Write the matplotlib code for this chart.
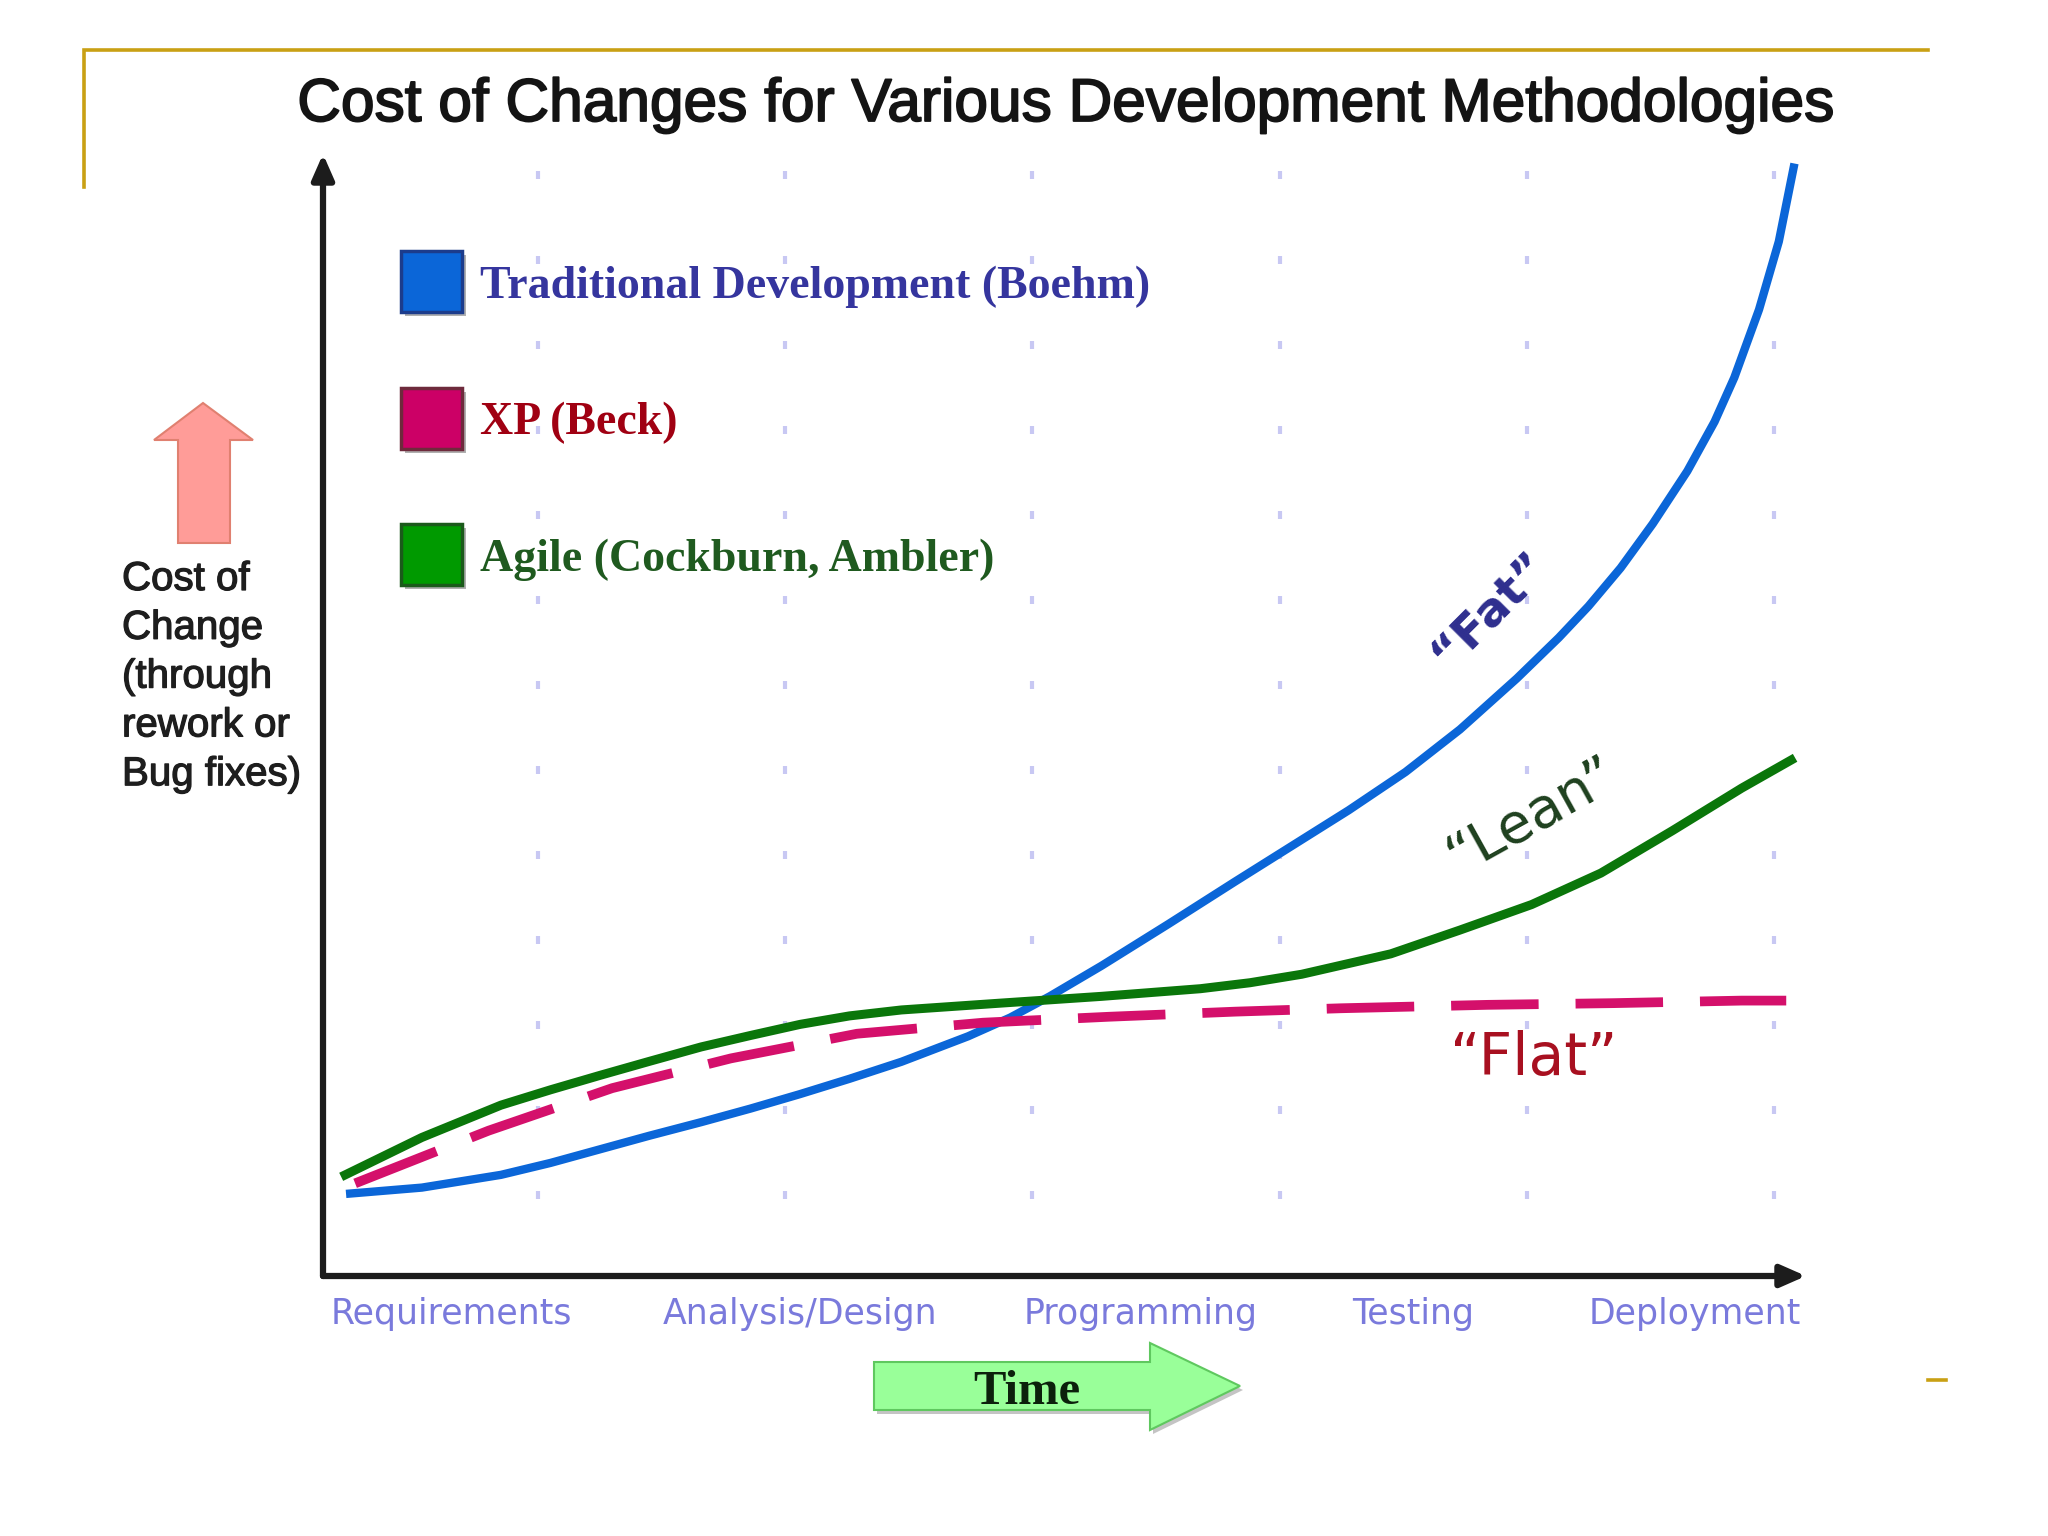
import numpy as np
import matplotlib
matplotlib.use('Agg')
from matplotlib import pyplot as plt
from matplotlib.patches import Polygon, Rectangle
from matplotlib import patheffects as pe

title = 'Cost of Changes for Various Development Methodologies'
y_label = 'Cost of\nChange\n(through\nrework or\nBug fixes)'
time_label = 'Time'

phases = ['Requirements', 'Analysis/Design', 'Programming', 'Testing', 'Deployment']
phase_pos = [0.65, 2.06, 3.44, 4.54, 5.68]

series_names = ['Traditional Development (Boehm)', 'XP (Beck)', 'Agile (Cockburn, Ambler)']
curve_labels = ['\u201cFat\u201d', '\u201cFlat\u201d', '\u201cLean\u201d']

# values (x in grid columns, y in grid rows)
trad_x = [0.24, 0.53, 0.85, 1.05, 1.25, 1.45, 1.66, 1.86, 2.06, 2.26, 2.47, 2.74,
          2.91, 3.07, 3.28, 3.55, 3.82, 4.05, 4.28, 4.51, 4.73, 4.96, 5.13, 5.25,
          5.38, 5.51, 5.65, 5.76, 5.84, 5.94, 6.02, 6.08]
trad_y = [1.02, 1.09, 1.24, 1.38, 1.54, 1.70, 1.86, 2.02, 2.19, 2.37, 2.57, 2.87,
          3.09, 3.34, 3.70, 4.19, 4.69, 5.11, 5.53, 5.98, 6.48, 7.08, 7.56, 7.93,
          8.38, 8.90, 9.52, 10.10, 10.62, 11.42, 12.22, 13.09]

xp_x = [0.26, 0.80, 1.30, 1.78, 2.29, 2.80, 3.31, 3.82, 4.25, 4.84, 5.35, 5.87, 6.05]
xp_y = [1.14, 1.76, 2.26, 2.61, 2.90, 3.03, 3.10, 3.16, 3.20, 3.24, 3.26, 3.29, 3.29]

agile_x = [0.22, 0.53, 0.85, 1.05, 1.25, 1.45, 1.66, 1.86, 2.06, 2.26, 2.47, 2.87,
           3.28, 3.68, 3.88, 4.09, 4.45, 4.73, 5.02, 5.30, 5.59, 5.87, 6.07]
agile_y = [1.24, 1.68, 2.06, 2.24, 2.41, 2.575, 2.745, 2.88, 3.01, 3.11, 3.18, 3.26,
           3.34, 3.43, 3.50, 3.60, 3.84, 4.12, 4.42, 4.79, 5.29, 5.79, 6.12]

grid_cols = [1, 2, 3, 4, 5, 6]
grid_rows = list(range(1, 14))

fig = plt.figure(figsize=(20.48, 15.36), dpi=100)
ax = fig.add_axes([323 / 2048, (1536 - 1276) / 1536, (1806 - 323) / 2048, (1276 - 154) / 1536])
ax.set_xlim(0.13, 6.13)
ax.set_ylim(0.05, 13.25)
for s in ax.spines.values():
    s.set_visible(False)

# dotted background grid
gx, gy = np.meshgrid(grid_cols, grid_rows)
ax.plot(gx.ravel(), gy.ravel(), ls='none', marker='|', ms=6, mew=3,
        color='#c8c8f3', zorder=1)

ax.plot(trad_x, trad_y, color='#0b66d8', lw=6, solid_joinstyle='round', zorder=3)
ax.plot(xp_x, xp_y, color='#d4106b', lw=7, dashes=(9, 3.8), zorder=4)
ax.plot(agile_x, agile_y, color='#0a760a', lw=6.5, solid_joinstyle='round', zorder=5)

ax.text(4.85, 7.88, curve_labels[0], rotation=45, rotation_mode='anchor',
        ha='center', va='center', fontsize=34, fontweight='bold',
        color='#2e2e8e', family='DejaVu Sans')
ax.text(5.03, 2.41, curve_labels[1], ha='center', va='baseline', fontsize=42,
        color='#a81020', family='DejaVu Sans')
ax.text(5.02, 5.46, curve_labels[2], rotation=29, rotation_mode='anchor',
        ha='center', va='center', fontsize=40, color='#1e401e', family='DejaVu Sans')

# axes with arrow heads
arrow = dict(arrowstyle='-|>,head_length=0.5,head_width=0.22', lw=4.5,
             color='#1c1c1c', shrinkA=0, shrinkB=0, mutation_scale=30)
ax.annotate('', xy=(0, 1), xytext=(0, 0), xycoords='axes fraction',
            textcoords='axes fraction', arrowprops=arrow)
ax.annotate('', xy=(1, 0), xytext=(0, 0), xycoords='axes fraction',
            textcoords='axes fraction', arrowprops=arrow)

ax.set_yticks([])
ax.set_xticks(phase_pos, phases)
ax.tick_params(axis='x', length=0, pad=15, labelsize=25, labelcolor='#7a7adc')
for t in ax.get_xticklabels():
    t.set_family('DejaVu Sans')

# overlay in pixel units for the decorations
deco = fig.add_axes([0, 0, 1, 1])
deco.set_xlim(0, 2048)
deco.set_ylim(1536, 0)
deco.axis('off')

gold = '#c9a014'
deco.plot([84, 84, 1928], [187, 50, 50], color=gold, lw=2.6, solid_joinstyle='miter')
deco.plot([1928, 1946], [1380, 1380], color=gold, lw=2.6)

heavy = [pe.withStroke(linewidth=1.3, foreground='#141414')]
deco.text(1065, 121, title, ha='center', va='baseline', fontsize=43.5,
          color='#141414', family='Liberation Sans', path_effects=heavy)

# legend
face = ['#0b66d8', '#cc0066', '#009a00']
edge = ['#1c3c8c', '#6e2a3c', '#1b5a1b']
text_col = ['#35359e', '#a00012', '#1f5a1f']
for i, name in enumerate(series_names):
    top = 251 + i * 136.5
    deco.add_patch(Rectangle((405, top + 4), 61, 61, facecolor='#b0b0b0', edgecolor='none'))
    deco.add_patch(Rectangle((401, top), 61, 61, facecolor=face[i], edgecolor=edge[i], lw=2.5))
    deco.text(480, top + 47, name, ha='left', va='baseline', fontsize=33,
              fontweight='bold', color=text_col[i], family='Liberation Serif')

# cost arrow and label
up = Polygon([(203, 403), (253, 440), (230, 440), (230, 543), (178, 543),
              (178, 440), (154, 440)], closed=True, facecolor='#ff9c98',
             edgecolor='#e08070', lw=1.5)
deco.add_patch(up)
deco.text(122, 560, y_label, ha='left', va='top', fontsize=29, linespacing=1.36,
          color='#1e1e1e', family='Liberation Sans',
          path_effects=[pe.withStroke(linewidth=0.9, foreground='#1e1e1e')])

# time arrow
time_pts = [(874, 1362), (1150, 1362), (1150, 1343), (1240, 1386), (1150, 1430),
            (1150, 1410), (874, 1410)]
deco.add_patch(Polygon([(x + 3, y + 4) for x, y in time_pts], closed=True,
                       facecolor='#c4c4c4', edgecolor='none'))
deco.add_patch(Polygon(time_pts, closed=True, facecolor='#99ff99', edgecolor='#5fc85f', lw=1.5))
deco.text(1027, 1404, time_label, ha='center', va='baseline', fontsize=35,
          fontweight='bold', color='#0c200c', family='Liberation Serif')

fig.savefig('out.png', dpi=100, facecolor='white')
